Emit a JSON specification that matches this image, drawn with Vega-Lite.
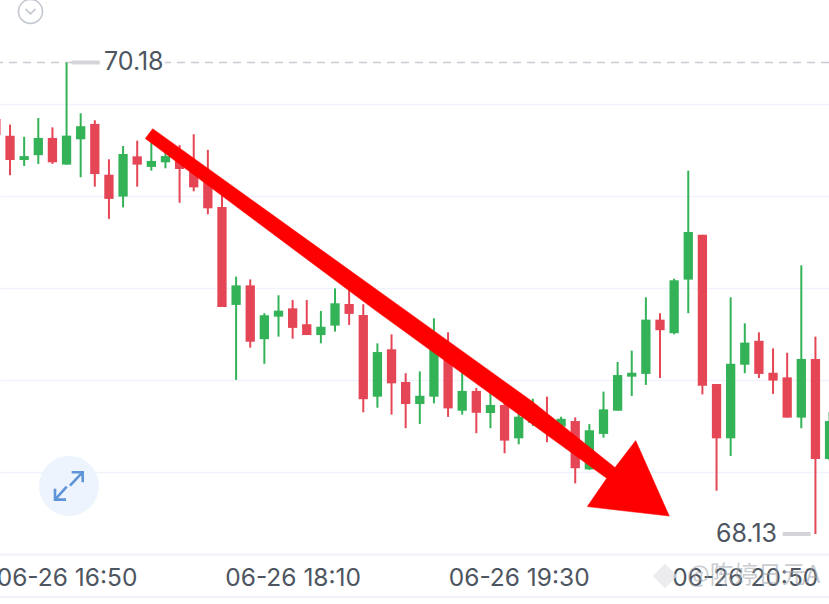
{
"$schema":"https://vega.github.io/schema/vega-lite/v6.json",
"width":829,"height":604,"padding":0,"autosize":{"type":"none"},"background":"#ffffff",
"config":{"view":{"stroke":null},"scale":{"continuousPadding":0}},
"datasets":{
"candles":[
{"t":"2025-06-26T16:25:00","open":69.934,"close":69.865,"high":69.952,"low":69.843,"dir":"down"},
{"t":"2025-06-26T16:30:00","open":69.862,"close":69.756,"high":69.910,"low":69.690,"dir":"down"},
{"t":"2025-06-26T16:35:00","open":69.756,"close":69.773,"high":69.857,"low":69.730,"dir":"up"},
{"t":"2025-06-26T16:40:00","open":69.777,"close":69.852,"high":69.939,"low":69.739,"dir":"up"},
{"t":"2025-06-26T16:45:00","open":69.852,"close":69.746,"high":69.898,"low":69.739,"dir":"down"},
{"t":"2025-06-26T16:50:00","open":69.736,"close":69.862,"high":70.180,"low":69.736,"dir":"up"},
{"t":"2025-06-26T16:55:00","open":69.846,"close":69.903,"high":69.959,"low":69.681,"dir":"up"},
{"t":"2025-06-26T17:00:00","open":69.913,"close":69.695,"high":69.929,"low":69.640,"dir":"down"},
{"t":"2025-06-26T17:05:00","open":69.692,"close":69.587,"high":69.759,"low":69.500,"dir":"down"},
{"t":"2025-06-26T17:10:00","open":69.597,"close":69.782,"high":69.817,"low":69.550,"dir":"up"},
{"t":"2025-06-26T17:15:00","open":69.772,"close":69.736,"high":69.840,"low":69.640,"dir":"down"},
{"t":"2025-06-26T17:20:00","open":69.726,"close":69.752,"high":69.830,"low":69.710,"dir":"up"},
{"t":"2025-06-26T17:25:00","open":69.746,"close":69.773,"high":69.800,"low":69.720,"dir":"up"},
{"t":"2025-06-26T17:30:00","open":69.765,"close":69.717,"high":69.821,"low":69.570,"dir":"down"},
{"t":"2025-06-26T17:35:00","open":69.734,"close":69.637,"high":69.868,"low":69.620,"dir":"down"},
{"t":"2025-06-26T17:40:00","open":69.682,"close":69.546,"high":69.800,"low":69.520,"dir":"down"},
{"t":"2025-06-26T17:45:00","open":69.552,"close":69.117,"high":69.626,"low":69.117,"dir":"down"},
{"t":"2025-06-26T17:50:00","open":69.126,"close":69.211,"high":69.249,"low":68.800,"dir":"up"},
{"t":"2025-06-26T17:55:00","open":69.211,"close":68.966,"high":69.237,"low":68.940,"dir":"down"},
{"t":"2025-06-26T18:00:00","open":68.977,"close":69.081,"high":69.090,"low":68.870,"dir":"up"},
{"t":"2025-06-26T18:05:00","open":69.075,"close":69.101,"high":69.168,"low":68.988,"dir":"up"},
{"t":"2025-06-26T18:10:00","open":69.111,"close":69.026,"high":69.147,"low":68.979,"dir":"down"},
{"t":"2025-06-26T18:15:00","open":69.042,"close":68.995,"high":69.147,"low":68.995,"dir":"down"},
{"t":"2025-06-26T18:20:00","open":68.995,"close":69.031,"high":69.100,"low":68.959,"dir":"up"},
{"t":"2025-06-26T18:25:00","open":69.036,"close":69.133,"high":69.198,"low":69.010,"dir":"up"},
{"t":"2025-06-26T18:30:00","open":69.130,"close":69.087,"high":69.191,"low":69.039,"dir":"down"},
{"t":"2025-06-26T18:35:00","open":69.082,"close":68.716,"high":69.129,"low":68.659,"dir":"down"},
{"t":"2025-06-26T18:40:00","open":68.727,"close":68.921,"high":68.959,"low":68.679,"dir":"up"},
{"t":"2025-06-26T18:45:00","open":68.933,"close":68.785,"high":68.998,"low":68.649,"dir":"down"},
{"t":"2025-06-26T18:50:00","open":68.791,"close":68.695,"high":68.829,"low":68.590,"dir":"down"},
{"t":"2025-06-26T18:55:00","open":68.695,"close":68.731,"high":68.837,"low":68.608,"dir":"up"},
{"t":"2025-06-26T19:00:00","open":68.727,"close":68.934,"high":69.068,"low":68.698,"dir":"up"},
{"t":"2025-06-26T19:05:00","open":68.887,"close":68.676,"high":69.007,"low":68.639,"dir":"down"},
{"t":"2025-06-26T19:10:00","open":68.666,"close":68.752,"high":68.830,"low":68.649,"dir":"up"},
{"t":"2025-06-26T19:15:00","open":68.752,"close":68.657,"high":68.765,"low":68.568,"dir":"down"},
{"t":"2025-06-26T19:20:00","open":68.656,"close":68.691,"high":68.743,"low":68.590,"dir":"up"},
{"t":"2025-06-26T19:25:00","open":68.691,"close":68.536,"high":68.700,"low":68.481,"dir":"down"},
{"t":"2025-06-26T19:30:00","open":68.546,"close":68.640,"high":68.656,"low":68.520,"dir":"up"},
{"t":"2025-06-26T19:35:00","open":68.613,"close":68.678,"high":68.718,"low":68.600,"dir":"up"},
{"t":"2025-06-26T19:40:00","open":68.633,"close":68.582,"high":68.727,"low":68.529,"dir":"down"},
{"t":"2025-06-26T19:45:00","open":68.597,"close":68.631,"high":68.640,"low":68.582,"dir":"up"},
{"t":"2025-06-26T19:50:00","open":68.621,"close":68.416,"high":68.637,"low":68.350,"dir":"down"},
{"t":"2025-06-26T19:55:00","open":68.411,"close":68.581,"high":68.608,"low":68.408,"dir":"up"},
{"t":"2025-06-26T20:00:00","open":68.565,"close":68.672,"high":68.749,"low":68.549,"dir":"up"},
{"t":"2025-06-26T20:05:00","open":68.666,"close":68.821,"high":68.878,"low":68.666,"dir":"up"},
{"t":"2025-06-26T20:10:00","open":68.814,"close":68.831,"high":68.927,"low":68.730,"dir":"up"},
{"t":"2025-06-26T20:15:00","open":68.826,"close":69.062,"high":69.159,"low":68.778,"dir":"up"},
{"t":"2025-06-26T20:20:00","open":69.062,"close":69.016,"high":69.090,"low":68.808,"dir":"down"},
{"t":"2025-06-26T20:25:00","open":69.003,"close":69.233,"high":69.240,"low":68.998,"dir":"up"},
{"t":"2025-06-26T20:30:00","open":69.236,"close":69.443,"high":69.710,"low":69.090,"dir":"up"},
{"t":"2025-06-26T20:35:00","open":69.431,"close":68.775,"high":69.431,"low":68.737,"dir":"down"},
{"t":"2025-06-26T20:40:00","open":68.782,"close":68.546,"high":68.782,"low":68.318,"dir":"down"},
{"t":"2025-06-26T20:45:00","open":68.546,"close":68.870,"high":69.159,"low":68.469,"dir":"up"},
{"t":"2025-06-26T20:50:00","open":68.866,"close":68.962,"high":69.046,"low":68.829,"dir":"up"},
{"t":"2025-06-26T20:55:00","open":68.970,"close":68.826,"high":69.007,"low":68.808,"dir":"down"},
{"t":"2025-06-26T21:00:00","open":68.831,"close":68.797,"high":68.937,"low":68.739,"dir":"down"},
{"t":"2025-06-26T21:05:00","open":68.811,"close":68.636,"high":68.918,"low":68.636,"dir":"down"},
{"t":"2025-06-26T21:10:00","open":68.636,"close":68.891,"high":69.298,"low":68.590,"dir":"up"},
{"t":"2025-06-26T21:15:00","open":68.891,"close":68.456,"high":68.988,"low":68.130,"dir":"down"},
{"t":"2025-06-26T21:20:00","open":68.456,"close":68.621,"high":68.660,"low":68.450,"dir":"up"}
],
"arrow":[
{"t":"2025-06-26T17:20:29","p":69.892,"k":1},
{"t":"2025-06-26T18:38:26","p":69.204,"k":2},
{"t":"2025-06-26T19:35:04","p":68.704,"k":3},
{"t":"2025-06-26T20:04:04","p":68.419,"k":4},
{"t":"2025-06-26T20:11:24","p":68.536,"k":5},
{"t":"2025-06-26T20:23:17","p":68.208,"k":6},
{"t":"2025-06-26T19:54:16","p":68.249,"k":7},
{"t":"2025-06-26T20:01:08","p":68.372,"k":8},
{"t":"2025-06-26T18:38:26","p":69.110,"k":9},
{"t":"2025-06-26T17:17:52","p":69.849,"k":10},
{"t":"2025-06-26T17:20:29","p":69.892,"k":11}
]
},
"layer":[
{"data":{"values":[{"p":70.18}]},
 "mark":{"type":"rule","stroke":"#c9ccd1","strokeWidth":1.5,"strokeDash":[8,6]},
 "encoding":{
  "y":{"field":"p","type":"quantitative","scale":{"domain":[67.8256,70.4517],"nice":false,"zero":false},
   "axis":{"orient":"left","title":null,"grid":true,"gridColor":"#f0f3fb","gridWidth":1.5,"domain":false,"ticks":false,"labels":false,"values":[70,69.6,69.2,68.8,68.4]}}
 }},
{"data":{"values":[{"p":67.856}]},
 "mark":{"type":"rule","stroke":"#eef1f8","strokeWidth":2},
 "encoding":{"y":{"field":"p","type":"quantitative"}}},
{"data":{"name":"candles"},
 "mark":{"type":"rule","strokeWidth":2,"clip":true},
 "encoding":{"x":{"field":"t","type":"temporal","scale":{"domain":["2025-06-26T16:26:27","2025-06-26T21:19:48"],"nice":false,"padding":0},
   "axis":{"orient":"bottom","offset":-50,"title":null,"grid":false,"domain":true,"domainColor":"#eef1f8","domainWidth":2,"ticks":false,
    "labelFont":"Inter","labelFontSize":24.5,"labelColor":"#4d5560","labelPadding":12,"labelOverlap":false,"labelFlush":false,"format":"%m-%d %H:%M",
    "values":[{"year":2025,"month":6,"date":26,"hours":16,"minutes":50},{"year":2025,"month":6,"date":26,"hours":18,"minutes":10},{"year":2025,"month":6,"date":26,"hours":19,"minutes":30},{"year":2025,"month":6,"date":26,"hours":20,"minutes":50}]}},
  "y":{"field":"high","type":"quantitative"},"y2":{"field":"low"},
  "color":{"field":"dir","type":"nominal","legend":null,"scale":{"domain":["up","down"],"range":["#34b257","#e54656"]}}}},
{"data":{"name":"candles"},
 "mark":{"type":"bar","size":9.3,"clip":true},
 "encoding":{"x":{"field":"t","type":"temporal"},"y":{"field":"open","type":"quantitative"},"y2":{"field":"close"},
  "color":{"field":"dir","type":"nominal","legend":null}}},
{"data":{"values":[{"a":"2025-06-26T17:01:50","b":"2025-06-26T17:24:50","p":70.18}]},
 "mark":{"type":"rule","stroke":"#ffffff","strokeWidth":4},
 "encoding":{"x":{"field":"a","type":"temporal"},"x2":{"field":"b"},"y":{"field":"p","type":"quantitative"}}},
{"data":{"values":[{"a":"2025-06-26T16:51:45","b":"2025-06-26T17:01:40","p":70.18},{"a":"2025-06-26T21:03:25","b":"2025-06-26T21:13:20","p":68.13}]},
 "mark":{"type":"rule","stroke":"#d3d5d9","strokeWidth":4},
 "encoding":{"x":{"field":"a","type":"temporal"},"x2":{"field":"b"},"y":{"field":"p","type":"quantitative"}}},
{"data":{"values":[{"a":"2025-06-26T17:03:15","p":70.18,"s":"70.18"}]},
 "mark":{"type":"text","align":"left","baseline":"middle","font":"Inter","fontSize":25,"fill":"#4d5560"},
 "encoding":{"x":{"field":"a","type":"temporal"},"y":{"field":"p","type":"quantitative"},"text":{"field":"s"}}},
{"data":{"values":[{"a":"2025-06-26T21:01:24","p":68.13,"s":"68.13"}]},
 "mark":{"type":"text","align":"right","baseline":"middle","font":"Inter","fontSize":25,"fill":"#4d5560"},
 "encoding":{"x":{"field":"a","type":"temporal"},"y":{"field":"p","type":"quantitative"},"text":{"field":"s"}}},
{"data":{"values":[{"a":"2025-06-26T16:50:52","p":68.339}]},
 "mark":{"type":"point","shape":"circle","filled":true,"fill":"#ebf3fd","opacity":0.92,"size":3600},
 "encoding":{"x":{"field":"a","type":"temporal"},"y":{"field":"p","type":"quantitative"}}},
{"data":{"values":[{"a":"2025-06-26T16:50:52","p":68.339}]},
 "mark":{"type":"point","shape":"M0.19 -0.98L0.98 -0.98L0.98 -0.26M0.98 -0.98L0.07 -0.02M-1 0.21L-1 0.98L-0.21 0.98M-1 0.98L-0.16 0.05","filled":false,"stroke":"#5f94d8","strokeWidth":2.6,"opacity":1,"size":784},
 "encoding":{"x":{"field":"a","type":"temporal"},"y":{"field":"p","type":"quantitative"}}},
{"data":{"values":[{"a":"2025-06-26T16:37:14","p":70.402}]},
 "mark":{"type":"point","shape":"circle","filled":false,"stroke":"#c3c8d0","strokeWidth":1.6,"opacity":1,"size":576},
 "encoding":{"x":{"field":"a","type":"temporal"},"y":{"field":"p","type":"quantitative"}}},
{"data":{"values":[{"a":"2025-06-26T16:37:14","p":70.402}]},
 "mark":{"type":"point","shape":"M-1 -0.5L0 0.5L1 -0.5","filled":false,"stroke":"#c3c8d0","strokeWidth":1.6,"opacity":1,"size":100},
 "encoding":{"x":{"field":"a","type":"temporal"},"y":{"field":"p","type":"quantitative"}}},
{"data":{"name":"arrow"},
 "mark":{"type":"line","fill":"#ff0000","stroke":"#ff0000","strokeWidth":0.5,"filled":true},
 "encoding":{"x":{"field":"t","type":"temporal"},"y":{"field":"p","type":"quantitative"},"order":{"field":"k","type":"quantitative"}}},
{"data":{"values":[{"a":"2025-06-26T20:21:46","p":67.947}]},
 "mark":{"type":"point","shape":"diamond","filled":true,"fill":"#e6e6e8","opacity":0.75,"size":600},
 "encoding":{"x":{"field":"a","type":"temporal"},"y":{"field":"p","type":"quantitative"}}},
{"data":{"values":[{"a":"2025-06-26T20:29:33","p":67.947,"s":"@陈婷日元A"}]},
 "mark":{"type":"text","align":"left","baseline":"middle","font":"Noto Sans CJK SC","fontSize":24,"fill":"#9ea3aa","opacity":0.55},
 "encoding":{"x":{"field":"a","type":"temporal"},"y":{"field":"p","type":"quantitative"},"text":{"field":"s"}}}
]
}
